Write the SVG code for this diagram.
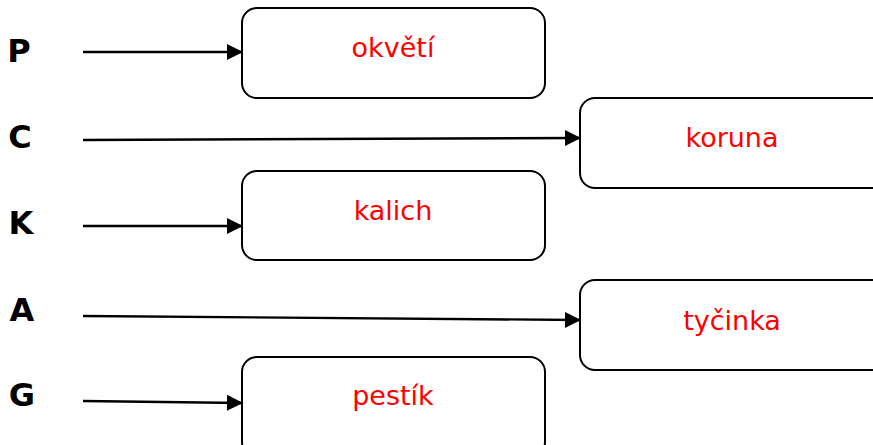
<svg xmlns="http://www.w3.org/2000/svg" width="873" height="445" viewBox="0 0 873 445">
<defs>
<style>
.box{fill:#fff;stroke:#000;stroke-width:2}
.lbl{font-family:"Comic Sans MS","DejaVu Sans",sans-serif;font-size:27px;fill:#ff0000;text-anchor:middle}
.key{font-family:"Comic Sans MS","DejaVu Sans",sans-serif;font-size:32px;font-weight:bold;fill:#000;text-anchor:middle}
.con{stroke:#000;stroke-width:2.4;fill:none;marker-end:url(#ah)}
</style>
<marker id="ah" viewBox="0 0 16 16" refX="15" refY="8" markerWidth="16" markerHeight="16" markerUnits="userSpaceOnUse" orient="auto" overflow="visible">
<path d="M0,0 L16,8 L0,16 z" fill="#000"/>
</marker>
</defs>
<rect width="873" height="445" fill="#fff"/>
<g id="keys">
<text class="key" x="19" y="62">P</text>
<text class="key" x="20" y="148">C</text>
<text class="key" x="21" y="234">K</text>
<text class="key" x="22" y="321">A</text>
<text class="key" x="22" y="406">G</text>
</g>
<g id="connectors">
<path class="con" d="M83,52 L242,52"/>
<path class="con" d="M83,140 L580,138"/>
<path class="con" d="M83,226 L242,226"/>
<path class="con" d="M83,316 L580,320"/>
<path class="con" d="M83,401 L242,403"/>
</g>
<g id="okveti">
<rect class="box" x="242" y="8" width="303" height="90" rx="15"/>
<text class="lbl" x="393" y="57">okvětí</text>
</g>
<g id="koruna">
<rect class="box" x="580" y="98" width="310" height="90" rx="15"/>
<text class="lbl" x="732" y="147">koruna</text>
</g>
<g id="kalich">
<rect class="box" x="242" y="171" width="303" height="89" rx="15"/>
<text class="lbl" x="393" y="220">kalich</text>
</g>
<g id="tycinka">
<rect class="box" x="580" y="280" width="310" height="90" rx="15"/>
<text class="lbl" x="732" y="330">tyčinka</text>
</g>
<g id="pestik">
<rect class="box" x="242" y="357" width="303" height="100" rx="15"/>
<text class="lbl" x="393" y="405">pestík</text>
</g>
</svg>
